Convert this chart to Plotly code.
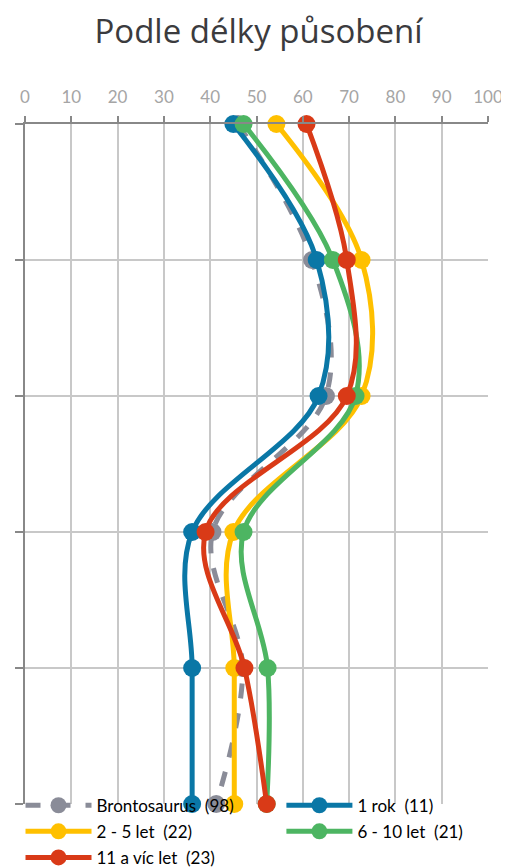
import plotly.graph_objects as go

# rows top -> bottom (no labels shown in the chart)
rows = [0, 1, 2, 3, 4, 5]

series_names = ["Brontosaurus\u00a0 (98)", "1 rok\u00a0 (11)", "2 - 5 let\u00a0 (22)",
                "6 - 10 let\u00a0 (21)", "11 a víc let\u00a0 (23)"]
brontosaurus = [46, 62, 65, 40.5, 47, 41.3]
rok_1 = [45, 63, 63.4, 36.1, 36.1, 36.1]
let_2_5 = [54.3, 72.7, 72.7, 45, 45.2, 45.2]
let_6_10 = [47.2, 66.5, 71.4, 47.2, 52.4, 52.2]
let_11 = [60.8, 69.5, 69.5, 39, 47.4, 52.2]

colors = ["#8a8c98", "#0a77a6", "#ffc000", "#4db562", "#d93a17"]
values = [brontosaurus, rok_1, let_2_5, let_6_10, let_11]
# left legend column / right legend column
legend_ids = ["legend", "legend2", "legend", "legend2", "legend"]

fig = go.Figure()
for i, (name, vals) in enumerate(zip(series_names, values)):
    fig.add_trace(go.Scatter(
        x=vals, y=rows, name=name, mode="lines+markers",
        line=dict(color=colors[i], width=5, shape="spline", smoothing=1,
                  dash="dash" if i == 0 else "solid"),
        marker=dict(size=18, color=colors[i]),
        cliponaxis=False, legend=legend_ids[i], legendgroup=f"g{i}",
    ))

legend_style = dict(orientation="v", yanchor="top", xanchor="left", y=0.024,
                    itemwidth=66, font=dict(size=17, color="black", family="Lato"),
                    bgcolor="rgba(0,0,0,0)", tracegroupgap=1)

# the page adds an 8px body margin, so the figure is 8px smaller than the window
fig.update_layout(
    width=501, height=860,
    margin=dict(l=17, r=21, t=116, b=64, autoexpand=False),
    paper_bgcolor="white", plot_bgcolor="white",
    font=dict(family="Lato", color="black"),
    title=dict(text="Podle délky působení", x=0.5, xanchor="center", y=0.973, yanchor="middle",
               font=dict(size=33, color="#3b3b3e", family="Open Sans")),
    xaxis=dict(range=[0, 100], side="top", dtick=10, showgrid=True, gridcolor="#c8c8c8", gridwidth=2,
               showline=True, linecolor="#888888", linewidth=2, ticks="outside", ticklen=6,
               tickcolor="#888888", tickwidth=2, zeroline=False, ticklabelstandoff=6,
               tickfont=dict(size=17, color="#a5a5a5", family="Lato")),
    yaxis=dict(range=[5, 0], dtick=1, showgrid=True, gridcolor="#c8c8c8", gridwidth=2,
               showline=True, linecolor="#888888", linewidth=2, ticks="outside", ticklen=8,
               tickcolor="#888888", tickwidth=2, showticklabels=False, zeroline=False),
    legend=dict(legend_style, x=-0.0097),
    legend2=dict(legend_style, x=0.5538),
    showlegend=True,
)

fig.write_html("out.html")
